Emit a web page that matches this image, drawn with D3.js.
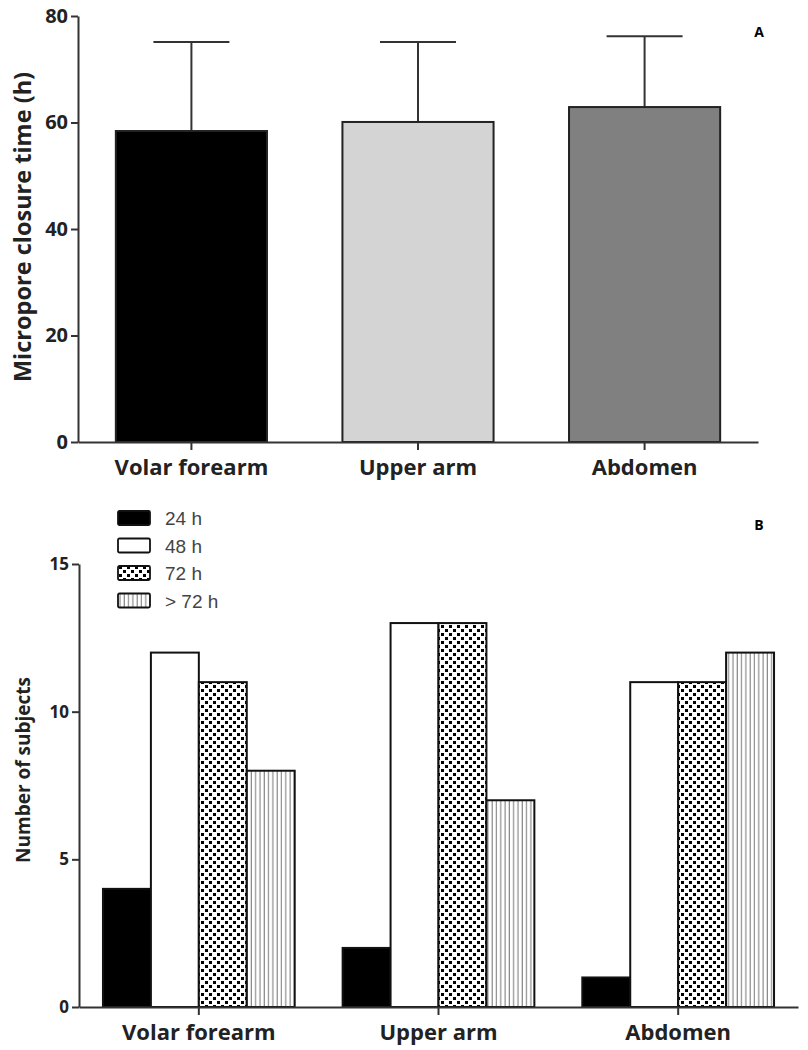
<!doctype html>
<html>
<head>
<meta charset="utf-8" />
<script src="https://cdn.jsdelivr.net/npm/d3@7"></script>
<style>
  body{margin:0;padding:0;background:#fff;}
  .axis path, .axis line{stroke:#333;stroke-width:2px;}
  .axis text{font-family:"Open Sans",sans-serif;font-weight:bold;fill:#222;}
</style>
</head>
<body>
<script>
// panel A: mean closure time per site, with SD
var sites = ["Volar forearm", "Upper arm", "Abdomen"];
var closureMean = [58.4, 60.1, 62.9];
var closureSD = [16.7, 15.0, 13.3];
var siteFills = ["#000000", "#d4d4d4", "#808080"];
var ticksA = [0, 20, 40, 60, 80];

// panel B: subjects per closure time group
var groups = ["24 h", "48 h", "72 h", "> 72 h"];
var subjects = [
  [4, 12, 11, 8],   // Volar forearm
  [2, 13, 13, 7],   // Upper arm
  [1, 11, 11, 12]   // Abdomen
];
var ticksB = [0, 5, 10, 15];

var W = 808, H = 1050;
var svg = d3.select("body").append("svg").attr("width", W).attr("height", H);

var defs = svg.append("defs");
// chequered pattern
var chk = defs.append("pattern").attr("id", "chk").attr("patternUnits", "userSpaceOnUse")
  .attr("width", 8).attr("height", 8);
chk.append("rect").attr("width", 8).attr("height", 8).attr("fill", "#fff");
chk.append("rect").attr("x", 1).attr("y", 1).attr("width", 3).attr("height", 3).attr("fill", "#000");
chk.append("rect").attr("x", 5).attr("y", 5).attr("width", 3).attr("height", 3).attr("fill", "#000");
// vertical stripes
var str = defs.append("pattern").attr("id", "str").attr("patternUnits", "userSpaceOnUse")
  .attr("width", 4.3).attr("height", 10);
str.append("rect").attr("width", 4.3).attr("height", 10).attr("fill", "#fff");
str.append("line").attr("x1", 2).attr("x2", 2).attr("y1", 0).attr("y2", 10)
  .attr("stroke", "#888").attr("stroke-width", 1.2);
var groupFills = ["#000", "#fff", "url(#chk)", "url(#str)"];

// ---------- Panel A ----------
var xA = d3.scaleBand().domain(sites).range([78, 758]).paddingInner(0.333).paddingOuter(0.167);
var yA = d3.scaleLinear().domain([0, 80]).range([442, 16]);

var gA = svg.append("g");
// error bars first (so bar covers the stem)
sites.forEach(function(s, i) {
  var cx = xA(s) + xA.bandwidth() / 2;
  var top = yA(closureMean[i] + closureSD[i]);
  gA.append("line").attr("x1", cx).attr("x2", cx).attr("y1", yA(closureMean[i])).attr("y2", top)
    .attr("stroke", "#333").attr("stroke-width", 2);
  gA.append("line").attr("x1", cx - 38).attr("x2", cx + 38).attr("y1", top).attr("y2", top)
    .attr("stroke", "#333").attr("stroke-width", 2);
});
gA.selectAll("rect.barA").data(sites).enter().append("rect").attr("class", "barA")
  .attr("x", function(d) { return xA(d); })
  .attr("width", xA.bandwidth())
  .attr("y", function(d, i) { return yA(closureMean[i]); })
  .attr("height", function(d, i) { return yA(0) - yA(closureMean[i]); })
  .attr("fill", function(d, i) { return siteFills[i]; })
  .attr("stroke", "#222").attr("stroke-width", 2);

svg.append("g").attr("class", "axis ya").attr("transform", "translate(78,0)")
  .call(d3.axisLeft(yA).tickValues(ticksA).tickSize(7).tickSizeOuter(0).tickPadding(3));
svg.select(".ya").selectAll("text").style("font-size", "20px");
svg.append("g").attr("class", "axis xa").attr("transform", "translate(0,442)")
  .call(d3.axisBottom(xA).tickSize(8).tickSizeOuter(0).tickPadding(9));
svg.select(".xa").selectAll("text").style("font-size", "22px");

svg.append("text").attr("transform", "translate(31,227) rotate(-90)").attr("text-anchor", "middle")
  .style("font-family", "Open Sans, sans-serif").style("font-weight", "bold").style("font-size", "23.5px")
  .attr("fill", "#222").text("Micropore closure time (h)");
svg.append("text").attr("x", 759).attr("y", 37).attr("text-anchor", "middle")
  .style("font-family", "Open Sans, sans-serif").style("font-weight", "bold").style("font-size", "14px")
  .text("A");

// ---------- Panel B ----------
var xB = d3.scaleBand().domain(sites).range([79, 798]).paddingInner(0.2).paddingOuter(0.1);
var xInner = d3.scaleBand().domain(groups).range([0, xB.bandwidth()]);
var yB = d3.scaleLinear().domain([0, 15]).range([1007, 564]);

var gB = svg.append("g");
sites.forEach(function(s, i) {
  gB.selectAll("rect.b" + i).data(groups).enter().append("rect")
    .attr("x", function(d) { return xB(s) + xInner(d); })
    .attr("width", xInner.bandwidth())
    .attr("y", function(d, j) { return yB(subjects[i][j]); })
    .attr("height", function(d, j) { return yB(0) - yB(subjects[i][j]); })
    .attr("fill", function(d, j) { return groupFills[j]; })
    .attr("stroke", "#111").attr("stroke-width", 2);
});

svg.append("g").attr("class", "axis yb").attr("transform", "translate(79,0)")
  .call(d3.axisLeft(yB).tickValues(ticksB).tickSize(7).tickSizeOuter(0).tickPadding(3));
svg.select(".yb").selectAll("text").style("font-size", "17px");
svg.append("g").attr("class", "axis xb").attr("transform", "translate(0,1007)")
  .call(d3.axisBottom(xB).tickSize(8).tickSizeOuter(0).tickPadding(9));
svg.select(".xb").selectAll("text").style("font-size", "22px");

svg.append("text").attr("transform", "translate(30,770) rotate(-90)").attr("text-anchor", "middle")
  .style("font-family", "Open Sans, sans-serif").style("font-weight", "bold").style("font-size", "19px")
  .attr("fill", "#222").text("Number of subjects");
svg.append("text").attr("x", 759).attr("y", 530).attr("text-anchor", "middle")
  .style("font-family", "Open Sans, sans-serif").style("font-weight", "bold").style("font-size", "14px")
  .text("B");

// legend
var leg = svg.append("g").attr("transform", "translate(118,510)");
groups.forEach(function(g, j) {
  var row = leg.append("g").attr("transform", "translate(0," + (j * 27.5) + ")");
  row.append("rect").attr("x", 0).attr("y", 1).attr("width", 32).attr("height", 14).attr("rx", 1.5)
    .attr("fill", groupFills[j]).attr("stroke", "#111").attr("stroke-width", 1.8);
  row.append("text").attr("x", 47).attr("y", 15).text(g)
    .style("font-family", "Liberation Sans, Arial, sans-serif").style("font-size", "19px").attr("fill", "#444");
});
</script>
</body>
</html>
